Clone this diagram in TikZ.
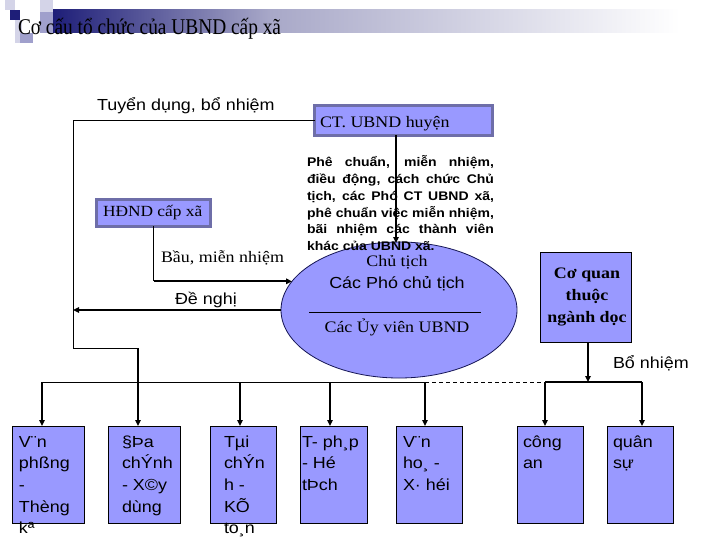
\documentclass[tikz,border=0pt]{standalone}
\usepackage{fontspec}
\newfontfamily\serifx{Liberation Serif}[FakeStretch=1.12]
\newfontfamily\sansx{Liberation Sans}[FakeStretch=1.12]
\newfontfamily\titlef{Liberation Serif}[FakeStretch=0.86]
\usetikzlibrary{shapes.geometric,arrows.meta}
\definecolor{peri}{HTML}{9999FF}
\definecolor{navy}{HTML}{1E1E78}
\definecolor{boxedge}{HTML}{6E6EA8}
\definecolor{pale}{HTML}{D4D4E8}
\definecolor{lav}{HTML}{A0A0CC}
\definecolor{midfade}{HTML}{A8A8C8}
\tikzset{
  every node/.style={inner sep=0pt, outer sep=0pt},
  topbox/.style={draw=boxedge, line width=2.5pt, fill=peri, anchor=north west},
  unitbox/.style={draw=black, line width=0.8pt, fill=peri, anchor=north west, minimum width=#1, minimum height=97pt},
  unittext/.style={anchor=north west, align=left, font=\sansx\fontsize{16}{21.7}\selectfont},
  sanslabel/.style={anchor=base west, font=\sansx\fontsize{16}{19}\selectfont},
  seriflabel/.style={font=\serifx\fontsize{16}{19}\selectfont},
  thinline/.style={draw=black, line width=0.8pt},
  arr/.style={draw=black, line width=1.8pt, -{Triangle[length=6pt,width=5.5pt]}},
}
\begin{document}
\begin{tikzpicture}[x=1pt,y=-1pt]
\useasboundingbox (0,0) rectangle (720,540);
\fill[white] (0,0) rectangle (720,540);
% title decoration
\shade[left color=navy, right color=midfade] (53,10) rectangle (270,33);
\shade[left color=midfade, right color=white] (270,10) rectangle (680,33);
\fill[pale] (5,0) rectangle (15,10);
\fill[pale] (40,0) rectangle (53,12);
\fill[lav] (40,12) rectangle (53,33);
\fill[navy] (10,10) rectangle (20,20);
\fill[pale] (15,20) rectangle (22,43);
\fill[lav] (20,33) rectangle (33,43);
\node[anchor=base west, font=\titlef\fontsize{22.5}{26}\selectfont] (title) at (18,35) {Cơ cấu tổ chức của UBND cấp xã};

% top label
\node[sanslabel] (tdbn) at (97,111) {Tuyển dụng, bổ nhiệm};

% CT UBND huyen
\node[topbox, minimum width=178pt, minimum height=30pt] (ct) at (314.5,105.5) {};
\node[seriflabel, anchor=base west] (ctt) at (320,128) {CT. UBND huyện};

% HDND
\node[topbox, minimum width=114pt, minimum height=27pt] (hd) at (96.5,199.5) {};
\node[anchor=base west, font=\serifx\fontsize{15.5}{18}\selectfont] (hdt) at (103,217) {HĐND cấp xã};

% ellipse
\node[ellipse, draw=navy!70!black, line width=0.8pt, fill=peri, minimum width=236pt, minimum height=136pt] (e) at (399,310) {};
\node[seriflabel, anchor=base] (ct1) at (397,266) {Chủ tịch};
\node[anchor=base, font=\sansx\fontsize{16}{19}\selectfont] (ct2) at (397,288) {Các Phó chủ tịch};
\draw[line width=0.8pt] (309,312) -- (481,312);
\node[seriflabel, anchor=base] (ct3) at (397,332) {Các Ủy viên UBND};

% bold text block
\node[anchor=north west, text width=187pt, align=justify, font=\sansx\bfseries\fontsize{12.5}{16.7}\selectfont] (pc) at (307,154) {\rule{0pt}{13pt}Phê chuẩn, miễn nhiệm,\linebreak điều động, cách chức Chủ\linebreak tịch, các Phó CT UBND xã,\linebreak phê chuẩn việc miễn nhiệm,\linebreak bãi nhiệm các thành viên\linebreak khác của UBND xã.};

% labels
\node[seriflabel, anchor=base west] (bau) at (161,262) {Bầu, miễn nhiệm};
\node[sanslabel] (dn) at (175,304) {Đề nghị};
\node[sanslabel] (bn) at (613,368) {Bổ nhiệm};

% Co quan thuoc nganh doc
\node[draw=black, line width=1pt, fill=peri, anchor=north west, minimum width=91pt, minimum height=90pt] (cq) at (540,252) {};
\node[anchor=north, align=center, font=\serifx\bfseries\fontsize{16}{22}\selectfont] (cqt) at (587,263) {\rule{0pt}{15pt}Cơ quan\\thuộc\\ngành dọc};

% bottom boxes
\node[unitbox=72pt] (b1) at (12,426) {};
\node[unitbox=72pt] (b2) at (108,426) {};
\node[unitbox=66pt] (b3) at (210,426) {};
\node[unitbox=67pt] (b4) at (300,426) {};
\node[unitbox=66pt] (b5) at (396,426) {};
\node[unitbox=66pt] (b6) at (517,426) {};
\node[unitbox=66pt] (b7) at (607,426) {};
\node[unittext] (t1) at (19,431) {\rule{0pt}{16pt}V¨n\\phßng\\-\\Thèng\\kª};
\node[unittext] (t2) at (122,431) {\rule{0pt}{16pt}§Þa\\chÝnh\\- X©y\\dùng};
\node[unittext] (t3) at (224,431) {\rule{0pt}{16pt}Tµi\\chÝn\\h -\\KÕ\\to¸n};
\node[unittext] (t4) at (302,431) {\rule{0pt}{16pt}T- ph¸p\\- Hé\\tÞch};
\node[unittext] (t5) at (403,431) {\rule{0pt}{16pt}V¨n\\ho¸ -\\X· héi};
\node[unittext] (t6) at (523,431) {\rule{0pt}{16pt}công\\an};
\node[unittext] (t7) at (613,431) {\rule{0pt}{16pt}quân\\sự};

% connectors
\coordinate (l1) at (73,120);
\coordinate (l2) at (73,348);
\coordinate (l3) at (138,348);
\draw[thinline] (ct.west) -| (l2) -- (l3);
\draw[arr] (l3) -- (l3 |- b2.north);

\draw[arr] (ct.south -| 396,0) -- (396,243);

\draw[thinline] (hd.south) -- (hd.south |- e.165);
\draw[arr] (hd.south |- e.165) -- (e.165);

\draw[arr] (e.west) -- (e.west -| l1);

\coordinate (bus1) at (42,382);
\coordinate (bus3) at (240,382);
\coordinate (bus4) at (330,382);
\coordinate (bus5) at (425,382);
\coordinate (bus6) at (545,382);
\coordinate (bus7) at (642,382);
\coordinate (cqj) at (588,382);
\draw[thinline] (bus1) -- (bus5);
\draw[thinline, dash pattern=on 4pt off 3pt] (bus5) -- (bus6);
\draw[draw=black, line width=1.2pt] (bus6) -- (bus7);
\draw[arr] (bus1) -- (bus1 |- b1.north);
\draw[arr] (bus3) -- (bus3 |- b3.north);
\draw[arr] (bus4) -- (bus4 |- b4.north);
\draw[arr] (bus5) -- (bus5 |- b5.north);
\draw[arr] (bus6) -- (bus6 |- b6.north);
\draw[arr] (bus7) -- (bus7 |- b7.north);
\draw[arr] (cq.south -| cqj) -- (cqj);
\end{tikzpicture}
\end{document}
